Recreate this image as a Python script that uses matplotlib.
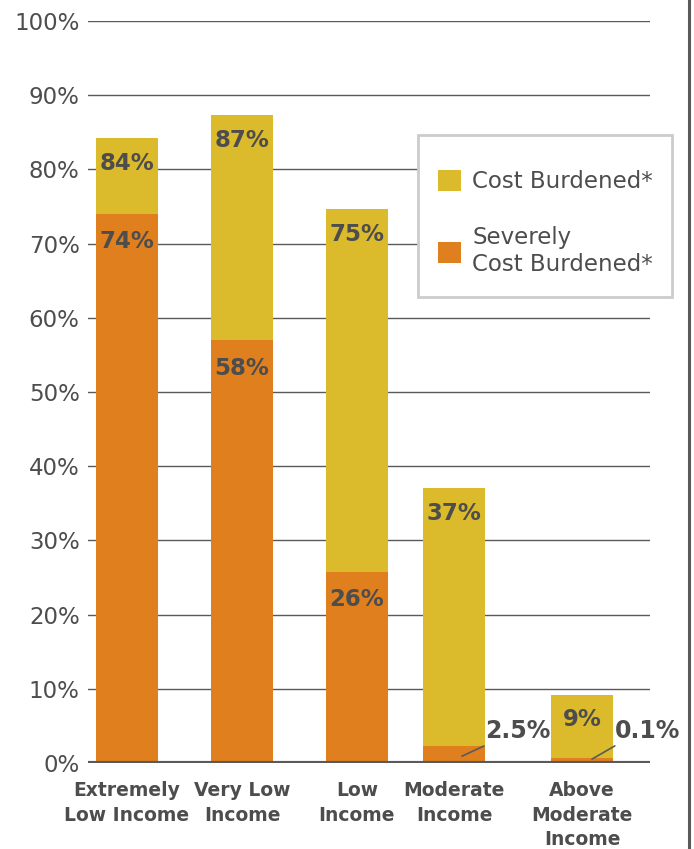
"""Cost burden by income level."""

import matplotlib.pyplot as plt
from matplotlib.patches import Patch, Rectangle
from matplotlib.lines import Line2D

plt.rcParams["font.family"] = ["DejaVu Sans"]

categories = [
    "Extremely\nLow Income",
    "Very Low\nIncome",
    "Low\nIncome",
    "Moderate\nIncome",
    "Above\nModerate\nIncome",
]
cost_burdened = [84.2, 87.3, 74.6, 37.0, 9.2]
severely_burdened = [74.0, 57.0, 25.8, 2.3, 0.7]
cost_labels = ["84%", "87%", "75%", "37%", "9%"]
severe_labels = ["74%", "58%", "26%", "2.5%", "0.1%"]
y_ticks = [0, 10, 20, 30, 40, 50, 60, 70, 80, 90, 100]

YELLOW = "#DBBA2C"
ORANGE = "#E07F1E"
TEXT = "#4D4D4D"
LINE = "#5A5A5A"

# bar centres in axis units (pixel-like layout)
xpos = [127, 242, 357, 454, 582]
width = 62

fig = plt.figure(figsize=(6.94, 8.49), dpi=100)
ax = fig.add_axes([88 / 694, 86 / 849, 562 / 694, 742 / 849])
ax.set_xlim(88, 650)
ax.set_ylim(0, 100)

for y in y_ticks[1:]:
    ax.axhline(y, color=LINE, linewidth=1.0, zorder=0)
ax.axhline(0, color=LINE, linewidth=3, zorder=3)

ax.bar(xpos, cost_burdened, width=width, color=YELLOW, zorder=1)
ax.bar(xpos, severely_burdened, width=width, color=ORANGE, zorder=2)

label_kw = dict(textcoords="offset pixels", ha="center", va="center",
                fontsize=16.5, fontweight="bold", color=TEXT, zorder=4)
for i, x in enumerate(xpos):
    ax.annotate(cost_labels[i], (x, cost_burdened[i]), xytext=(0, -25), **label_kw)
    if severely_burdened[i] > 10:
        ax.annotate(severe_labels[i], (x, severely_burdened[i]), xytext=(0, -28), **label_kw)

# small values get a leader line
def leader(i, dx, frac, offset, relx):
    ax.annotate(severe_labels[i], (xpos[i] + dx, severely_burdened[i] * frac),
                xytext=offset, textcoords="offset pixels", ha="center", va="center",
                fontsize=17, fontweight="bold", color=TEXT, zorder=4,
                arrowprops=dict(arrowstyle="-", color=LINE, lw=1.2,
                                relpos=(relx, 0.1), shrinkA=0, shrinkB=0))


leader(3, 8, 0.4, (56, 25), 0.15)
leader(4, 10, 0.75, (56, 28), 0.13)

ax.set_yticks(y_ticks)
ax.set_yticklabels([f"{v}%" for v in y_ticks], fontsize=16.5, color=TEXT)
ax.set_xticks(xpos)
ax.set_xticklabels(categories, fontsize=13.5, fontweight="bold", color=TEXT,
                   linespacing=1.38)
ax.tick_params(axis="both", length=0)
ax.tick_params(axis="y", pad=6)
ax.tick_params(axis="x", pad=13)
for spine in ax.spines.values():
    spine.set_visible(False)

# legend box drawn separately so its padding can match the original
ax.add_patch(Rectangle((418 / 694, 1 - 297 / 849), 254 / 694, 162 / 849,
                       transform=fig.transFigure, facecolor="white",
                       edgecolor="#CCCCCC", linewidth=2, zorder=4.5,
                       clip_on=False))
handles = [Patch(facecolor=YELLOW), Patch(facecolor=ORANGE)]
leg = ax.legend(handles, ["Cost Burdened*", "Severely\nCost Burdened*"],
                loc="upper left", bbox_to_anchor=(438 / 694, 1 - 170 / 849),
                bbox_transform=fig.transFigure, fontsize=16.5, labelcolor=TEXT,
                frameon=False, handlelength=1.0, handleheight=1.0,
                handletextpad=0.5, borderpad=0, labelspacing=1.45,
                borderaxespad=0)
leg.set_zorder(5)
for t in leg.get_texts():
    t.set_linespacing(1.2)

fig.add_artist(Line2D([689 / 694, 689 / 694], [0, 1], color=LINE, linewidth=2.2,
                      transform=fig.transFigure))

fig.savefig("out.png", dpi=100)
